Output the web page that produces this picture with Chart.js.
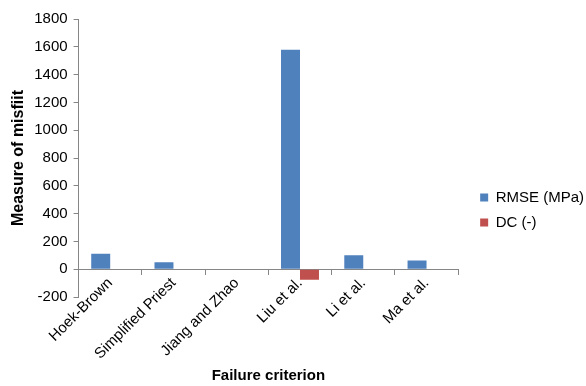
<!DOCTYPE html>
<html>
<head>
<meta charset="utf-8">
<script src="https://cdn.jsdelivr.net/npm/chart.js@4/dist/chart.umd.min.js"></script>
<style>
  html, body { margin: 0; padding: 0; background: #ffffff; }
  #wrap { position: relative; width: 586px; height: 386px; }
</style>
</head>
<body>
<div id="wrap"><canvas id="c"></canvas></div>
<script>
const categories = ['Hoek-Brown', 'Simplified Priest', 'Jiang and Zhao', 'Liu et al.', 'Li et al.', 'Ma et al.'];
const rmseValues = [112, 50, 3, 1578, 100, 62];
const dcValues = [0, 0, 0, -76, 0, 0];
const seriesNames = ['RMSE (MPa)', 'DC (-)'];
const yMin = -200;
const yMax = 1800;
const yStep = 200;

const axisColor = '#868686';
const font = 'Liberation Sans, Arial, sans-serif';

const legendShift = {
  id: 'legendShift',
  afterLayout(chart) {
    const L = chart.legend;
    if (!L) return;
    const dx = (chart.chartArea.right + 12) - L.left;
    const dy = 52;
    L.left += dx; L.right += dx;
    L.top += dy; L.bottom += dy;
  }
};

new Chart(document.getElementById('c'), {
  type: 'bar',
  data: {
    labels: categories,
    datasets: [
      { label: seriesNames[0], data: rmseValues, backgroundColor: '#4F81BD', borderWidth: 0 },
      { label: seriesNames[1], data: dcValues, backgroundColor: '#C0504D', borderWidth: 0 }
    ]
  },
  options: {
    responsive: true,
    maintainAspectRatio: false,
    animation: false,
    devicePixelRatio: 1,
    datasets: { bar: { categoryPercentage: 0.6, barPercentage: 1.0 } },
    layout: { padding: { left: 5, top: 19, right: 4, bottom: 89 } },
    plugins: {
      tooltip: { enabled: false },
      legend: {
        position: 'right',
        labels: {
          boxWidth: 8, boxHeight: 8, padding: 10,
          color: '#000', font: { family: font, size: 15 }
        }
      }
    },
    scales: {
      x: {
        position: { y: 0 },
        grid: { offset: true, drawOnChartArea: false, tickLength: 5, color: axisColor, lineWidth: 1 },
        border: { color: axisColor, width: 1 },
        ticks: { minRotation: 45, maxRotation: 45, padding: 0, color: '#000', font: { family: font, size: 15 } },
        title: { display: true, text: 'Failure criterion', color: '#000', font: { family: font, size: 15, weight: 'bold' } }
      },
      y: {
        min: yMin, max: yMax,
        grid: { drawOnChartArea: false, tickLength: 5, color: axisColor, lineWidth: 1 },
        border: { color: axisColor, width: 1 },
        ticks: { stepSize: yStep, padding: 6, color: '#000', font: { family: font, size: 15 },
                 callback: (v) => String(v) },
        title: { display: true, text: 'Measure of misfiit', color: '#000', padding: { top: 4, bottom: 0 },
                 font: { family: font, size: 16, weight: 'bold' } }
      }
    }
  },
  plugins: [legendShift]
});
</script>
</body>
</html>
